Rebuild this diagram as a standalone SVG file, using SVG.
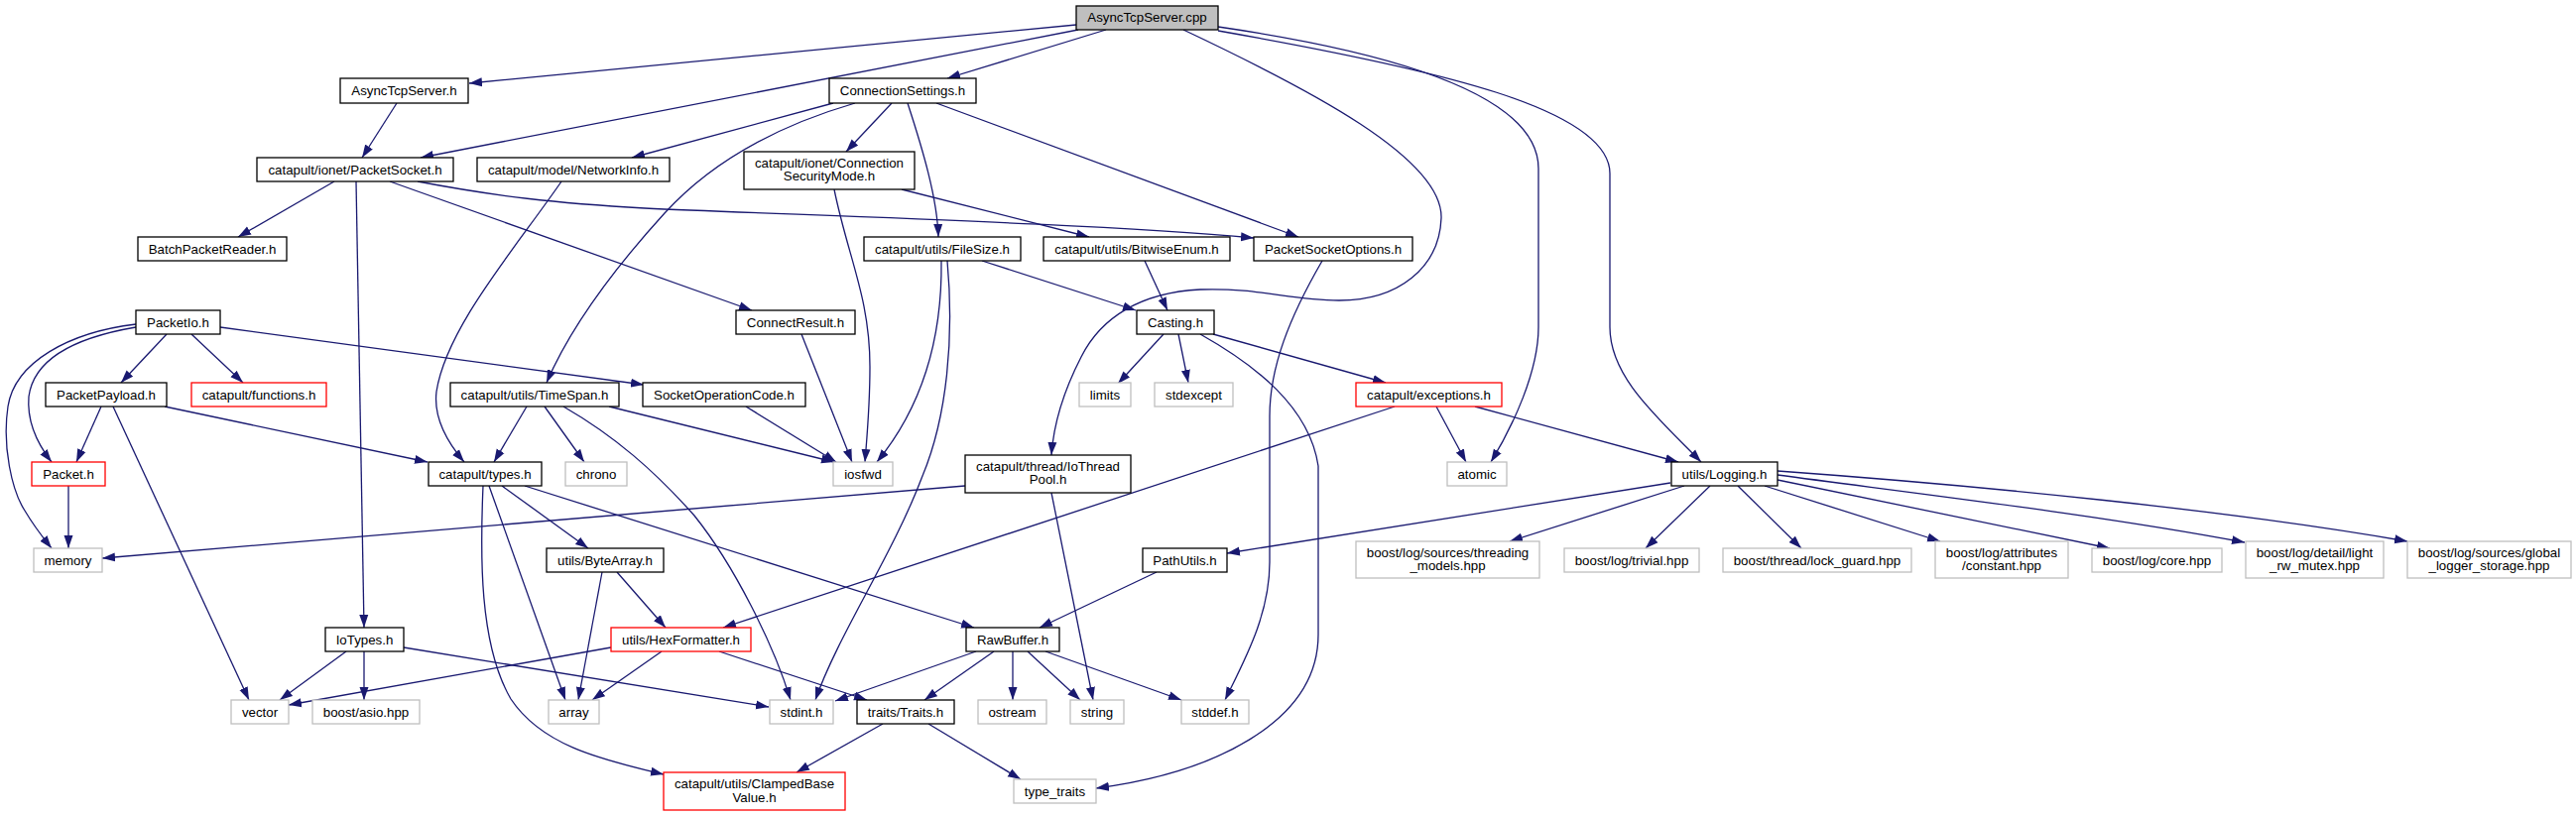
<svg xmlns="http://www.w3.org/2000/svg" width="2597" height="823" viewBox="0 0 2597 823">
<style>
rect{fill:#fff;stroke-width:1.3}
.n rect{stroke:#000}
.g rect{stroke:#bfbfbf}
.r rect{stroke:#ff0000}
.root rect{fill:#bfbfbf;stroke:#000}
text{font-family:"Liberation Sans",Arial,Helvetica,sans-serif;font-size:13.3px;fill:#000;text-anchor:middle}
#edges path{fill:none;stroke:#191970;stroke-width:1.3;marker-end:url(#a)}
</style>
<defs>
<marker id="a" markerUnits="userSpaceOnUse" markerWidth="14" markerHeight="10" viewBox="0 0 14 10" refX="13" refY="5" orient="auto"><path d="M0,0.5 L13,5 L0,9.5z" fill="#191970"/></marker>
</defs>
<rect x="0" y="0" width="2597" height="823" style="fill:#fff;stroke:none"/>
<g id="edges">
<path d="M1085,25 L473,84"/>
<path d="M1087,30 L424,159"/>
<path d="M1115,30 L955,79"/>
<path d="M1193,30 C1320,90 1455,160 1453,220 C1451,270 1410,303 1350,303 C1300,303 1270,290 1210,292 C1150,295 1110,320 1090,360 C1072,395 1062,430 1060,459"/>
<path d="M1228,27 C1420,55 1551,100 1551,170 L1551,330 C1551,375 1525,430 1503,466"/>
<path d="M1228,31 C1450,70 1623,110 1623,175 L1623,330 C1623,380 1670,420 1715,466"/>
<path d="M400,104 L365,159"/>
<path d="M840,104 L637,159"/>
<path d="M862,104 C790,125 720,160 670,215 C620,270 575,330 551,386"/>
<path d="M899,104 L853,153"/>
<path d="M915,104 C930,150 945,200 946,239"/>
<path d="M944,104 L1309,239"/>
<path d="M337,183 L240,239"/>
<path d="M359,183 L367,633"/>
<path d="M393,183 L758,313"/>
<path d="M421,183 C500,198 560,205 650,210 C800,217 1100,225 1264,240"/>
<path d="M566,183 C520,250 450,330 440,395 C437,420 450,445 468,466"/>
<path d="M841,191 C855,260 877,300 877,370 C877,410 874,440 872,466"/>
<path d="M909,191 L1098,239"/>
<path d="M990,263 L1145,313"/>
<path d="M949,263 C950,340 930,410 884,466"/>
<path d="M955,263 C962,340 955,420 930,480 C900,560 845,640 822,706"/>
<path d="M1154,263 L1177,313"/>
<path d="M1333,263 C1300,320 1280,370 1280,420 L1280,567 C1280,620 1255,665 1235,706"/>
<path d="M808,337 L859,466"/>
<path d="M168,337 L122,386"/>
<path d="M193,337 L245,386"/>
<path d="M222,330 L649,388"/>
<path d="M137,330 C90,338 35,355 29,400 C27,425 38,448 52,466"/>
<path d="M137,327 C70,335 15,365 8,410 C2,450 12,495 25,515 C35,532 44,543 52,553"/>
<path d="M69,490 L69,553"/>
<path d="M102,410 L77,466"/>
<path d="M114,410 L251,706"/>
<path d="M166,410 L431,466"/>
<path d="M531,410 L498,466"/>
<path d="M549,410 L589,466"/>
<path d="M614,410 L841,466"/>
<path d="M568,410 C620,440 660,475 700,520 C740,570 780,650 797,706"/>
<path d="M752,410 L843,466"/>
<path d="M506,490 L593,553"/>
<path d="M493,490 L570,706"/>
<path d="M487,490 C484,560 483,650 515,705 C545,750 600,765 669,781"/>
<path d="M529,490 L982,633"/>
<path d="M607,577 L583,706"/>
<path d="M622,577 L671,633"/>
<path d="M616,653 L291,711"/>
<path d="M667,657 L597,706"/>
<path d="M725,657 L874,706"/>
<path d="M973,490 L103,563"/>
<path d="M1060,497 L1102,706"/>
<path d="M1173,337 L1127,387"/>
<path d="M1188,337 L1198,386"/>
<path d="M1223,337 L1397,386"/>
<path d="M1210,337 C1265,368 1320,410 1329,470 L1329,640 C1329,730 1220,780 1105,795"/>
<path d="M1406,410 L729,633"/>
<path d="M1448,410 L1478,466"/>
<path d="M1487,410 L1692,466"/>
<path d="M1684,487 L1237,558"/>
<path d="M1698,490 L1522,546"/>
<path d="M1724,490 L1659,553"/>
<path d="M1752,490 L1816,553"/>
<path d="M1779,490 L1956,546"/>
<path d="M1792,484 L2127,553"/>
<path d="M1792,479 C1950,500 2120,520 2263,547"/>
<path d="M1792,475 C2000,490 2250,515 2427,546"/>
<path d="M1166,577 L1048,633"/>
<path d="M984,657 L842,707"/>
<path d="M1002,657 L932,706"/>
<path d="M1021,657 L1021,706"/>
<path d="M1036,657 L1089,706"/>
<path d="M1054,657 L1191,706"/>
<path d="M349,657 L282,706"/>
<path d="M367,657 L367,706"/>
<path d="M407,653 L775,713"/>
<path d="M890,730 L803,779"/>
<path d="M936,730 L1029,786"/>
</g>
<g id="cpp" class="root"><rect x="1085" y="6" width="143" height="24"/><text x="1156.5" y="22">AsyncTcpServer.cpp</text></g>
<g id="ats_h" class="n"><rect x="343" y="79" width="129" height="25"/><text x="407.5" y="96">AsyncTcpServer.h</text></g>
<g id="connset" class="n"><rect x="836" y="79" width="148" height="25"/><text x="910" y="96">ConnectionSettings.h</text></g>
<g id="packetsocket" class="n"><rect x="259" y="159" width="198" height="24"/><text x="358" y="175.5">catapult/ionet/PacketSocket.h</text></g>
<g id="networkinfo" class="n"><rect x="481" y="159" width="194" height="24"/><text x="578" y="175.5">catapult/model/NetworkInfo.h</text></g>
<g id="connsec" class="n"><rect x="750" y="153" width="172" height="38"/><text x="836" y="168.5">catapult/ionet/Connection</text><text x="836" y="182">SecurityMode.h</text></g>
<g id="batch" class="n"><rect x="139" y="239" width="150" height="24"/><text x="214" y="255.5">BatchPacketReader.h</text></g>
<g id="filesize" class="n"><rect x="871" y="239" width="158" height="24"/><text x="950" y="255.5">catapult/utils/FileSize.h</text></g>
<g id="bitwise" class="n"><rect x="1052" y="239" width="188" height="24"/><text x="1146" y="255.5">catapult/utils/BitwiseEnum.h</text></g>
<g id="pso" class="n"><rect x="1264" y="239" width="160" height="24"/><text x="1344" y="255.5">PacketSocketOptions.h</text></g>
<g id="packetio" class="n"><rect x="137" y="313" width="85" height="24"/><text x="179.5" y="329.5">PacketIo.h</text></g>
<g id="connectresult" class="n"><rect x="742" y="313" width="120" height="24"/><text x="802" y="329.5">ConnectResult.h</text></g>
<g id="casting" class="n"><rect x="1146" y="313" width="78" height="24"/><text x="1185" y="329.5">Casting.h</text></g>
<g id="payload" class="n"><rect x="46" y="386" width="122" height="24"/><text x="107" y="402.5">PacketPayload.h</text></g>
<g id="functions" class="r"><rect x="193" y="386" width="136" height="24"/><text x="261" y="402.5">catapult/functions.h</text></g>
<g id="timespan" class="n"><rect x="454" y="386" width="170" height="24"/><text x="539" y="402.5">catapult/utils/TimeSpan.h</text></g>
<g id="sockop" class="n"><rect x="648" y="386" width="164" height="24"/><text x="730" y="402.5">SocketOperationCode.h</text></g>
<g id="limits" class="g"><rect x="1088" y="386" width="52" height="24"/><text x="1114" y="402.5">limits</text></g>
<g id="stdexcept" class="g"><rect x="1164" y="386" width="79" height="24"/><text x="1203.5" y="402.5">stdexcept</text></g>
<g id="exceptions" class="r"><rect x="1367" y="386" width="147" height="24"/><text x="1440.5" y="402.5">catapult/exceptions.h</text></g>
<g id="packet" class="r"><rect x="32" y="466" width="74" height="24"/><text x="69" y="482.5">Packet.h</text></g>
<g id="types" class="n"><rect x="432" y="466" width="114" height="24"/><text x="489" y="482.5">catapult/types.h</text></g>
<g id="chrono" class="g"><rect x="570" y="466" width="62" height="24"/><text x="601" y="482.5">chrono</text></g>
<g id="iosfwd" class="g"><rect x="840" y="466" width="60" height="24"/><text x="870" y="482.5">iosfwd</text></g>
<g id="iothreadpool" class="n"><rect x="973" y="459" width="167" height="38"/><text x="1056.5" y="474.5">catapult/thread/IoThread</text><text x="1056.5" y="488">Pool.h</text></g>
<g id="atomic" class="g"><rect x="1459" y="466" width="60" height="24"/><text x="1489" y="482.5">atomic</text></g>
<g id="logging" class="n"><rect x="1685" y="466" width="107" height="24"/><text x="1738.5" y="482.5">utils/Logging.h</text></g>
<g id="memory" class="g"><rect x="34" y="553" width="69" height="24"/><text x="68.5" y="569.5">memory</text></g>
<g id="bytearray" class="n"><rect x="551" y="553" width="118" height="24"/><text x="610" y="569.5">utils/ByteArray.h</text></g>
<g id="pathutils" class="n"><rect x="1152" y="553" width="85" height="24"/><text x="1194.5" y="569.5">PathUtils.h</text></g>
<g id="threading" class="g"><rect x="1367" y="546" width="185" height="37"/><text x="1459.5" y="561.5">boost/log/sources/threading</text><text x="1459.5" y="575">_models.hpp</text></g>
<g id="trivial" class="g"><rect x="1577" y="553" width="136" height="24"/><text x="1645" y="569.5">boost/log/trivial.hpp</text></g>
<g id="lockguard" class="g"><rect x="1737" y="553" width="190" height="24"/><text x="1832" y="569.5">boost/thread/lock_guard.hpp</text></g>
<g id="constant" class="g"><rect x="1951" y="546" width="134" height="37"/><text x="2018" y="561.5">boost/log/attributes</text><text x="2018" y="575">/constant.hpp</text></g>
<g id="core" class="g"><rect x="2109" y="553" width="131" height="24"/><text x="2174.5" y="569.5">boost/log/core.hpp</text></g>
<g id="lightrw" class="g"><rect x="2264" y="546" width="139" height="37"/><text x="2333.5" y="561.5">boost/log/detail/light</text><text x="2333.5" y="575">_rw_mutex.hpp</text></g>
<g id="global" class="g"><rect x="2427" y="546" width="165" height="37"/><text x="2509.5" y="561.5">boost/log/sources/global</text><text x="2509.5" y="575">_logger_storage.hpp</text></g>
<g id="iotypes" class="n"><rect x="328" y="633" width="79" height="24"/><text x="367.5" y="649.5">IoTypes.h</text></g>
<g id="hexformatter" class="r"><rect x="616" y="633" width="141" height="24"/><text x="686.5" y="649.5">utils/HexFormatter.h</text></g>
<g id="rawbuffer" class="n"><rect x="974" y="633" width="94" height="24"/><text x="1021" y="649.5">RawBuffer.h</text></g>
<g id="vector" class="g"><rect x="233" y="706" width="58" height="24"/><text x="262" y="722.5">vector</text></g>
<g id="asio" class="g"><rect x="315" y="706" width="108" height="24"/><text x="369" y="722.5">boost/asio.hpp</text></g>
<g id="array" class="g"><rect x="553" y="706" width="51" height="24"/><text x="578.5" y="722.5">array</text></g>
<g id="stdint" class="g"><rect x="776" y="706" width="64" height="24"/><text x="808" y="722.5">stdint.h</text></g>
<g id="traits" class="n"><rect x="864" y="706" width="98" height="24"/><text x="913" y="722.5">traits/Traits.h</text></g>
<g id="ostream" class="g"><rect x="986" y="706" width="69" height="24"/><text x="1020.5" y="722.5">ostream</text></g>
<g id="string" class="g"><rect x="1079" y="706" width="54" height="24"/><text x="1106" y="722.5">string</text></g>
<g id="stddef" class="g"><rect x="1191" y="706" width="68" height="24"/><text x="1225" y="722.5">stddef.h</text></g>
<g id="clamped" class="r"><rect x="669" y="779" width="183" height="38"/><text x="760.5" y="795">catapult/utils/ClampedBase</text><text x="760.5" y="808.5">Value.h</text></g>
<g id="typetraits" class="g"><rect x="1022" y="786" width="83" height="24"/><text x="1063.5" y="802.5">type_traits</text></g>
</svg>
